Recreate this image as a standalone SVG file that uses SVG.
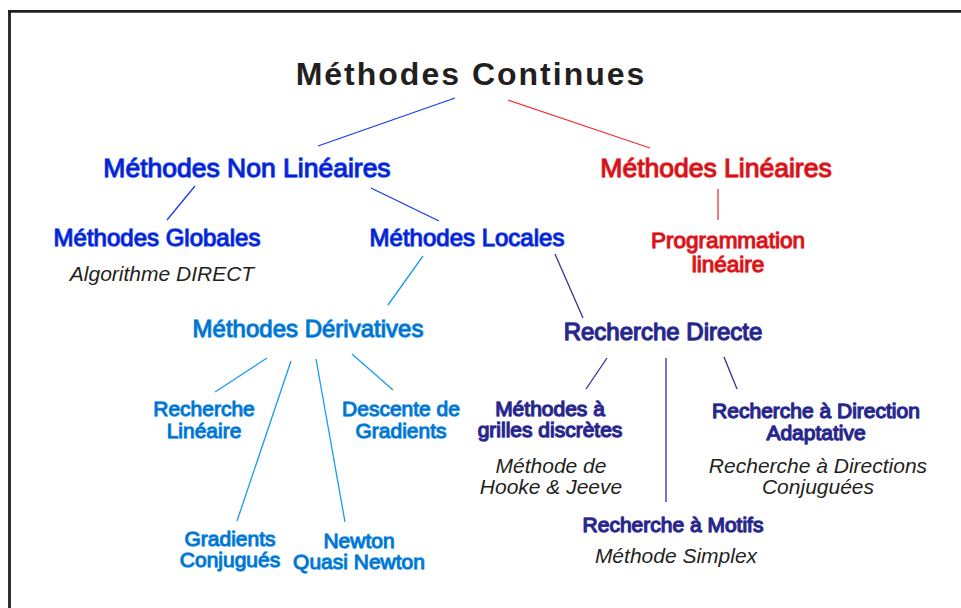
<svg xmlns="http://www.w3.org/2000/svg" width="961" height="608" viewBox="0 0 961 608">
<style>
text{font-family:"Liberation Sans",Arial,sans-serif;text-anchor:middle;paint-order:stroke;stroke-linejoin:round}
.title{font-size:32px;font-weight:bold;fill:#231f20;letter-spacing:2px}
.blue{font-size:26.5px;fill:#0a1fc8;stroke:#2f5cff;stroke-width:1.4px}
.blue2{font-size:24px;fill:#0a1fc8;stroke:#2f5cff;stroke-width:1.4px}
.red{fill:#c8161e;stroke:#ff3b3b;stroke-width:1.4px}
.lb{fill:#0670c8;stroke:#2a9bf0;stroke-width:1.3px}
.nv{fill:#262680;stroke:#3a3aa8;stroke-width:1.4px}
.it{font-style:italic;font-size:21px;fill:#231f20}
.c line{stroke-width:1.3}
</style>
<g id="frame" fill="none" stroke="#231f20" stroke-width="2.8">
<line x1="8" y1="11.4" x2="961" y2="11.4"/>
<line x1="9.5" y1="10" x2="9.5" y2="608"/>
</g>
<g class="c" id="connectors">
<line x1="455" y1="98" x2="318" y2="146" stroke="#1a3be8"/>
<line x1="508" y1="100" x2="650" y2="148" stroke="#f0303a"/>
<line x1="195" y1="186" x2="167" y2="220" stroke="#1a3be8"/>
<line x1="371" y1="188" x2="439" y2="221" stroke="#1a3be8"/>
<line x1="718" y1="189" x2="718" y2="220" stroke="#f0303a"/>
<line x1="423" y1="256" x2="388" y2="305" stroke="#1a9af0"/>
<line x1="555" y1="254" x2="583" y2="318" stroke="#2e3192"/>
<line x1="267" y1="358" x2="215" y2="392" stroke="#1a9af0"/>
<line x1="291" y1="361" x2="237" y2="521" stroke="#1a9af0"/>
<line x1="316" y1="359" x2="345" y2="522" stroke="#1a9af0"/>
<line x1="352" y1="354" x2="393" y2="390" stroke="#1a9af0"/>
<line x1="607" y1="358" x2="586" y2="389" stroke="#2e3192"/>
<line x1="666" y1="358" x2="666" y2="502" stroke="#2e3192"/>
<line x1="724" y1="357" x2="737" y2="389" stroke="#2e3192"/>
</g>
<g id="n-continues"><text class="title" x="471" y="85">Méthodes Continues</text></g>
<g id="n-nonlineaires"><text class="blue" x="247" y="177">Méthodes Non Linéaires</text></g>
<g id="n-lineaires"><text class="red" style="font-size:26.5px" x="716" y="177">Méthodes Linéaires</text></g>
<g id="n-globales"><text class="blue2" x="157" y="246">Méthodes Globales</text>
<text class="it" x="162" y="281">Algorithme DIRECT</text></g>
<g id="n-locales"><text class="blue2" x="467" y="246">Méthodes Locales</text></g>
<g id="n-programmation"><text class="red" style="font-size:22.5px" x="728" y="248">Programmation</text>
<text class="red" style="font-size:22.5px" x="728" y="272">linéaire</text></g>
<g id="n-derivatives"><text class="lb" style="font-size:24px" x="308" y="337">Méthodes Dérivatives</text></g>
<g id="n-directe"><text class="nv" style="font-size:24px" x="663" y="340">Recherche Directe</text></g>
<g id="n-rechlin"><text class="lb" style="font-size:21px" x="204" y="416">Recherche</text>
<text class="lb" style="font-size:21px" x="204" y="438">Linéaire</text></g>
<g id="n-descente"><text class="lb" style="font-size:21px" x="401" y="416">Descente de</text>
<text class="lb" style="font-size:21px" x="401" y="438">Gradients</text></g>
<g id="n-gradconj"><text class="lb" style="font-size:21px" x="230" y="546">Gradients</text>
<text class="lb" style="font-size:21px" x="230" y="567">Conjugués</text></g>
<g id="n-newton"><text class="lb" style="font-size:21px" x="359" y="548">Newton</text>
<text class="lb" style="font-size:21px" x="359" y="569">Quasi Newton</text></g>
<g id="n-grilles"><text class="nv" style="font-size:21px" x="550" y="416">Méthodes à</text>
<text class="nv" style="font-size:21px" x="550" y="437">grilles discrètes</text>
<text class="it" x="551" y="473">Méthode de</text>
<text class="it" x="551" y="494">Hooke &amp; Jeeve</text></g>
<g id="n-direction"><text class="nv" style="font-size:21px" x="816" y="418">Recherche à Direction</text>
<text class="nv" style="font-size:21px" x="816" y="440">Adaptative</text>
<text class="it" x="818" y="473">Recherche à Directions</text>
<text class="it" x="818" y="494">Conjuguées</text></g>
<g id="n-motifs"><text class="nv" style="font-size:21px" x="673" y="532">Recherche à Motifs</text>
<text class="it" x="676" y="563">Méthode Simplex</text></g>
</svg>
